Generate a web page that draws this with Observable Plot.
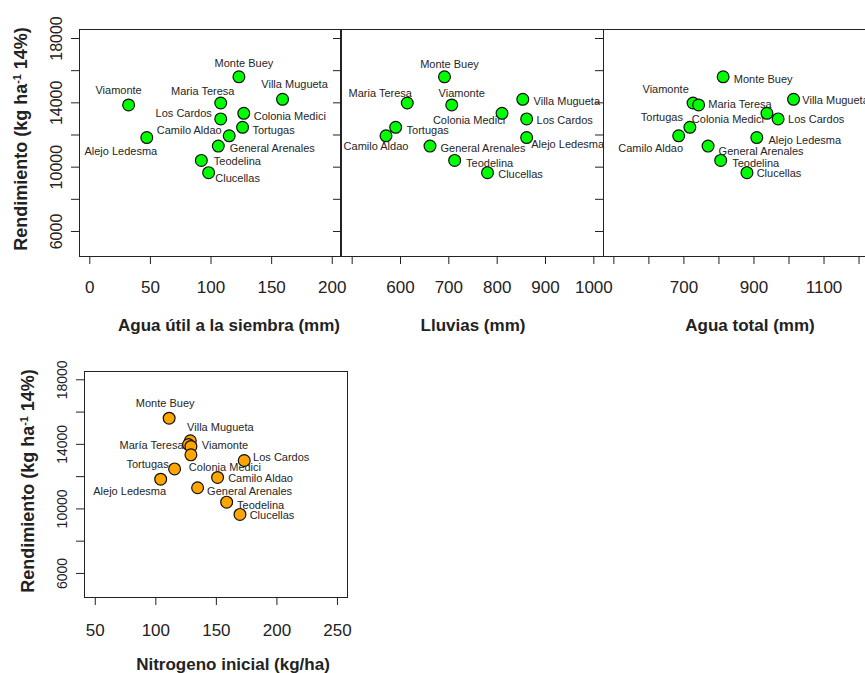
<!DOCTYPE html>
<html><head><meta charset="utf-8">
<script src="https://cdn.jsdelivr.net/npm/d3@7"></script>
<script src="https://cdn.jsdelivr.net/npm/@observablehq/plot@0.6"></script>
<style>
html,body{margin:0;padding:0;background:#fff;}
#chart{position:relative;width:865px;height:673px;overflow:hidden;background:#fff;font-family:"Liberation Sans",Arial,sans-serif;color:#222;}
#chart svg{position:absolute;max-width:none;overflow:visible;}
.ttl{position:absolute;font-weight:bold;font-size:17px;white-space:nowrap;transform:translate(-50%,-50%);line-height:1;}
.ttl.v{transform:translate(-50%,-50%) rotate(-90deg);font-size:18px;}
.ttl sup{font-size:0.6em;vertical-align:0.55em;line-height:0;}
</style></head><body><div id="chart"></div>
<script>
// ---- data ----
const sites = ["Monte Buey","Villa Mugueta","Maria Teresa","Viamonte","Colonia Medici","Los Cardos","Tortugas","Camilo Aldao","Alejo Ledesma","General Arenales","Teodelina","Clucellas"];
const sitesN = ["Monte Buey","Villa Mugueta","María Teresa","Viamonte","Colonia Medici","Los Cardos","Tortugas","Camilo Aldao","Alejo Ledesma","General Arenales","Teodelina","Clucellas"];
const rendimiento = [15620, 14220, 13990, 13870, 13350, 13000, 12480, 11950, 11840, 11310, 10420, 9660];
const aguaUtil  = [123, 159, 108, 32, 127, 108, 126, 115, 47, 106, 92, 98];
const lluvias   = [691, 853, 614, 706, 810, 861, 590, 570, 861, 661, 712, 780];
const aguaTotal = [812, 1013, 726, 742, 937, 969, 717, 685, 908, 769, 805, 880];
const nitrogeno = [111, 128.5, 127, 129, 129, 173, 115.5, 151, 104, 134.5, 158.5, 169.5];

const yTicks = [6000, 8000, 10000, 12000, 14000, 16000, 18000];
const yTickLabels = [6000, 10000, 14000, 18000];
const xTicks1 = [0, 50, 100, 150, 200];
const xLabels1 = [0, 50, 100, 150, 200];
const xTicks2 = [500, 600, 700, 800, 900, 1000];
const xLabels2 = [600, 700, 800, 900, 1000];
const xTicks3 = [500, 600, 700, 800, 900, 1000, 1100, 1200];
const xLabels3 = [700, 900, 1100];
const xTicks4 = [50, 100, 150, 200, 250];
const xLabels4 = [50, 100, 150, 200, 250];

const xTitle1 = "Agua útil a la siembra (mm)";
const xTitle2 = "Lluvias (mm)";
const xTitle3 = "Agua total (mm)";
const xTitle4 = "Nitrogeno inicial (kg/ha)";
const yTitleHTML = "Rendimiento (kg ha<sup>-1</sup> 14%)";

// ---- label placement offsets (px, relative to point), site order ----
const off1 = [[5,-13],[12,-15],[-18,-12],[-10,-14],[46,3],[-37,-5],[31,3],[-40,-5],[-26,14],[54,2],[36,1],[29,6]];
const off2 = [[5,-12],[44,2],[-27,-10],[10,-11],[-33,7],[38,2],[32,3],[-10,11],[41,7],[53,2],[35,3],[33,2]];
const off3 = [[40,3],[42,1],[47,1],[-33,-15],[-39,6],[38,1],[-28,-10],[-28,13],[48,3],[53,5],[35,3],[32,1]];
const off4 = [[-4,-15],[30,-13],[-37,1],[34,-1],[34,13],[37,-3],[-27,-4],[43,1],[-31,12],[52,4],[34,3],[32,1]];

const chart = document.getElementById("chart");
const idx = sites.map((_, i) => i);

function panel(o) {
  const marks = [
    Plot.axisX({ticks: o.xTicks, tickSize: 8, tickPadding: o.xPad, label: null,
      tickFormat: d => o.xLabels.includes(d) ? String(d) : "",
      fontSize: o.xFont}),
    Plot.axisY({ticks: yTicks, tickSize: 8, tickPadding: 10, tickRotate: -90, label: null,
      tickFormat: d => o.yLabels.includes(d) ? String(d) : "",
      fontSize: o.yFont}),
    ...idx.map(i => Plot.text([i], {
      x: d => o.xs[d], y: d => rendimiento[d], text: d => o.names[d],
      dx: o.off[i][0], dy: o.off[i][1], fontSize: 11, fill: "#262626"
    })),
    Plot.dot(idx, {x: d => o.xs[d], y: d => rendimiento[d], r: 5.9,
      fill: o.fill, stroke: "#111", strokeWidth: 1.2}),
    Plot.frame({stroke: "#222", strokeWidth: 1})
  ];
  const svg = Plot.plot({
    width: o.width, height: o.height,
    marginLeft: o.ml, marginRight: o.mr, marginTop: o.mt, marginBottom: o.mb,
    x: {domain: o.xDomain},
    y: {domain: o.yDomain},
    style: {fontFamily: '"Liberation Sans", Arial, sans-serif', color: "#222", background: "transparent", overflow: "visible"},
    marks
  });
  svg.style.left = o.left + "px";
  svg.style.top = o.top + "px";
  chart.appendChild(svg);
}

panel({left: 0, top: 0, width: 345, height: 310, ml: 79, mr: 5, mt: 29, mb: 54,
  xDomain: [-8.5, 206.8], yDomain: [4445, 18560], xs: aguaUtil, names: sites, off: off1,
  xTicks: xTicks1, xLabels: xLabels1, yLabels: yTickLabels, xPad: 16, xFont: 17, yFont: 16, fill: "#00ff00"});
panel({left: 331, top: 0, width: 275, height: 310, ml: 10, mr: 3, mt: 29, mb: 54,
  xDomain: [477.9, 1020], yDomain: [4445, 18560], xs: lluvias, names: sites, off: off2,
  xTicks: xTicks2, xLabels: xLabels2, yLabels: [], xPad: 16, xFont: 17, yFont: 16, fill: "#00ff00"});
panel({left: 593, top: 0, width: 278, height: 310, ml: 10, mr: 3, mt: 29, mb: 54,
  xDomain: [470.4, 1227], yDomain: [4445, 18560], xs: aguaTotal, names: sites, off: off3,
  xTicks: xTicks3, xLabels: xLabels3, yLabels: [], xPad: 16, xFont: 17, yFont: 16, fill: "#00ff00"});
panel({left: 0, top: 340, width: 350, height: 317, ml: 84, mr: 3, mt: 31, mb: 60,
  xDomain: [41.1, 258.3], yDomain: [4510, 18515], xs: nitrogeno, names: sitesN, off: off4,
  xTicks: xTicks4, xLabels: xLabels4, yLabels: yTickLabels, xPad: 18, xFont: 17, yFont: 14, fill: "#ffa500"});

function title(html, x, y, vertical) {
  const d = document.createElement("div");
  d.className = "ttl" + (vertical ? " v" : "");
  d.innerHTML = html;
  d.style.left = x + "px";
  d.style.top = y + "px";
  chart.appendChild(d);
}
title(xTitle1, 229, 325);
title(xTitle2, 473, 325);
title(xTitle3, 750, 325);
title(xTitle4, 233, 664);
title(yTitleHTML, 21, 139, true);
title(yTitleHTML, 28, 481, true);
</script>
</body></html>
